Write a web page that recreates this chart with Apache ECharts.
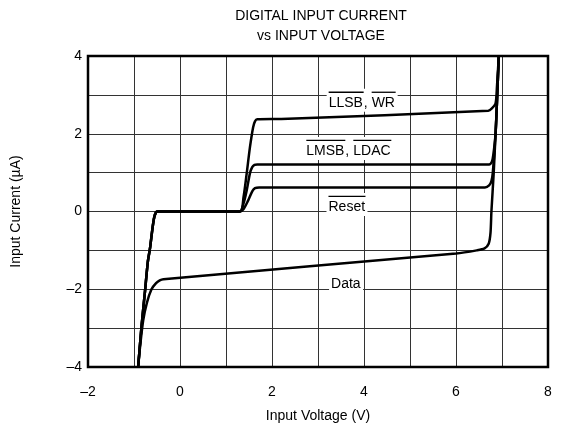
<!DOCTYPE html>
<html>
<head>
<meta charset="utf-8">
<script src="https://cdn.jsdelivr.net/npm/echarts@6/dist/echarts.min.js"></script>
<style>html,body{margin:0;padding:0;background:#fff}#c{width:563px;height:432px}</style>
</head>
<body>
<div id="c"></div>
<script>
// ---- data (Input Voltage V, Input Current µA) ----
const xTicks = [-2, 0, 2, 4, 6, 8];
const yTicks = [-4, -2, 0, 2, 4];
const commonLeft = [[-0.91,-4],[-0.84,-3],[-0.76,-2.04],[-0.70,-1.3],[-0.65,-0.93],[-0.60,-0.45],[-0.56,-0.15],[-0.52,-0.02],[-0.48,0],[1.30,0]];
const llsbWr = [[1.38,0.36],[1.45,0.98],[1.52,1.65],[1.59,2.17],[1.63,2.32],[1.68,2.37],[2.2,2.38],[6.70,2.59],[6.78,2.65],[6.86,2.78],[6.89,3.2],[6.93,4]];
const lmsbLdac = [[1.38,0.2],[1.45,0.54],[1.52,0.98],[1.57,1.14],[1.62,1.2],[1.68,1.21],[6.72,1.21],[6.78,1.28],[6.81,1.45],[6.86,2],[6.89,2.8],[6.93,4]];
const reset = [[1.38,0.06],[1.48,0.28],[1.57,0.52],[1.63,0.6],[1.72,0.62],[6.63,0.62],[6.72,0.67],[6.77,0.78],[6.80,1.0],[6.86,2],[6.89,2.8],[6.93,4]];
const data = [[-0.91,-4],[-0.87,-3.5],[-0.80,-2.8],[-0.72,-2.35],[-0.62,-2.0],[-0.52,-1.84],[-0.44,-1.77],[-0.36,-1.74],[6.0,-1.08],[6.45,-1.0],[6.62,-0.95],[6.71,-0.83],[6.75,-0.55],[6.77,0],[6.82,1],[6.86,2],[6.89,2.8],[6.93,4]];
// label text segments: [text, overlined]
const labelParts = [
  [['LLSB', true], [', ', false], ['WR', true]],
  [['LMSB', true], [', ', false], ['LDAC', true]],
  [['Reset', true]],
  [['Data', false]]
];
const labelX = [3.96, 3.67, 3.63, 3.61];
const labelY = [2.81, 1.57, 0.13, -1.86];

const FONT = '"Liberation Sans", Arial, Helvetica, sans-serif';
const FS = 14;
const fmtNum = v => (v < 0 ? '\u2013' + Math.abs(v) : String(v));

// text measuring for overline bars
const mctx = document.createElement('canvas').getContext('2d');
mctx.font = FS + 'px ' + FONT;
const tw = s => Math.ceil(mctx.measureText(s).width);

const rich = {};
const labelData = labelParts.map((parts, i) => {
  let top = '', bottom = '';
  parts.forEach((p, j) => {
    const w = tw(p[0]);
    const key = 'l' + i + '_' + j;
    rich['b' + key] = {width: w, height: 1.3, lineHeight: 5, backgroundColor: p[1] ? '#000' : 'transparent'};
    rich['t' + key] = {width: w, fontFamily: FONT, fontSize: FS, color: '#000', lineHeight: 16, align: 'left'};
    top += '{b' + key + '|}';
    bottom += '{t' + key + '|' + p[0] + '}';
  });
  const hasBar = parts.some(p => p[1]);
  return {
    value: [labelX[i], labelY[i]],
    label: {formatter: hasBar ? top + '\n' + bottom : bottom, offset: [0, hasBar ? -2 : 0]}
  };
});

const curve = pts => ({
  type: 'line', data: pts, showSymbol: false, smooth: 0.25, z: 3,
  lineStyle: {color: '#000', width: 2.5}, animation: false
});

const chart = echarts.init(document.getElementById('c'), null, {renderer: 'canvas'});
chart.setOption({
  animation: false,
  backgroundColor: '#fff',
  title: {
    text: 'DIGITAL INPUT CURRENT\nvs INPUT VOLTAGE',
    left: 316, top: 1, textAlign: 'center',
    textStyle: {fontFamily: FONT, fontSize: FS, fontWeight: 'normal', color: '#000', lineHeight: 20}
  },
  grid: {left: 88, right: 15, top: 56, bottom: 65, show: true, borderColor: '#000', borderWidth: 2.5, z: 5},
  xAxis: {
    type: 'value', min: -2, max: 8, interval: 1,
    name: 'Input Voltage (V)', nameLocation: 'middle', nameGap: 42,
    nameTextStyle: {fontFamily: FONT, fontSize: FS, color: '#000'},
    axisLine: {show: false}, axisTick: {show: false},
    axisLabel: {fontFamily: FONT, fontSize: FS, color: '#000', margin: 18,
      formatter: v => (xTicks.includes(v) ? fmtNum(v) : '')},
    splitLine: {show: true, lineStyle: {color: '#333', width: 1}}
  },
  yAxis: {
    type: 'value', min: -4, max: 4, interval: 1,
    name: 'Input Current (\u00b5A)', nameLocation: 'middle', nameGap: 65, nameRotate: 90,
    nameTextStyle: {fontFamily: FONT, fontSize: FS, color: '#000'},
    axisLine: {show: false}, axisTick: {show: false},
    axisLabel: {fontFamily: FONT, fontSize: FS, color: '#000', margin: 6,
      formatter: v => (yTicks.includes(v) ? fmtNum(v) : '')},
    splitLine: {show: true, lineStyle: {color: '#333', width: 1}}
  },
  series: [
    curve(commonLeft.concat(llsbWr)),
    curve(commonLeft.concat(lmsbLdac)),
    curve(commonLeft.concat(reset)),
    curve(data),
    {
      type: 'scatter', symbolSize: 0, z: 4, silent: true,
      itemStyle: {opacity: 1},
      data: labelData,
      label: {
        show: true, position: 'inside',
        fontFamily: FONT, fontSize: FS, color: '#000', opacity: 1,
        backgroundColor: '#fff', padding: [1, 2], rich: rich
      }
    }
  ]
});
</script>
</body>
</html>
